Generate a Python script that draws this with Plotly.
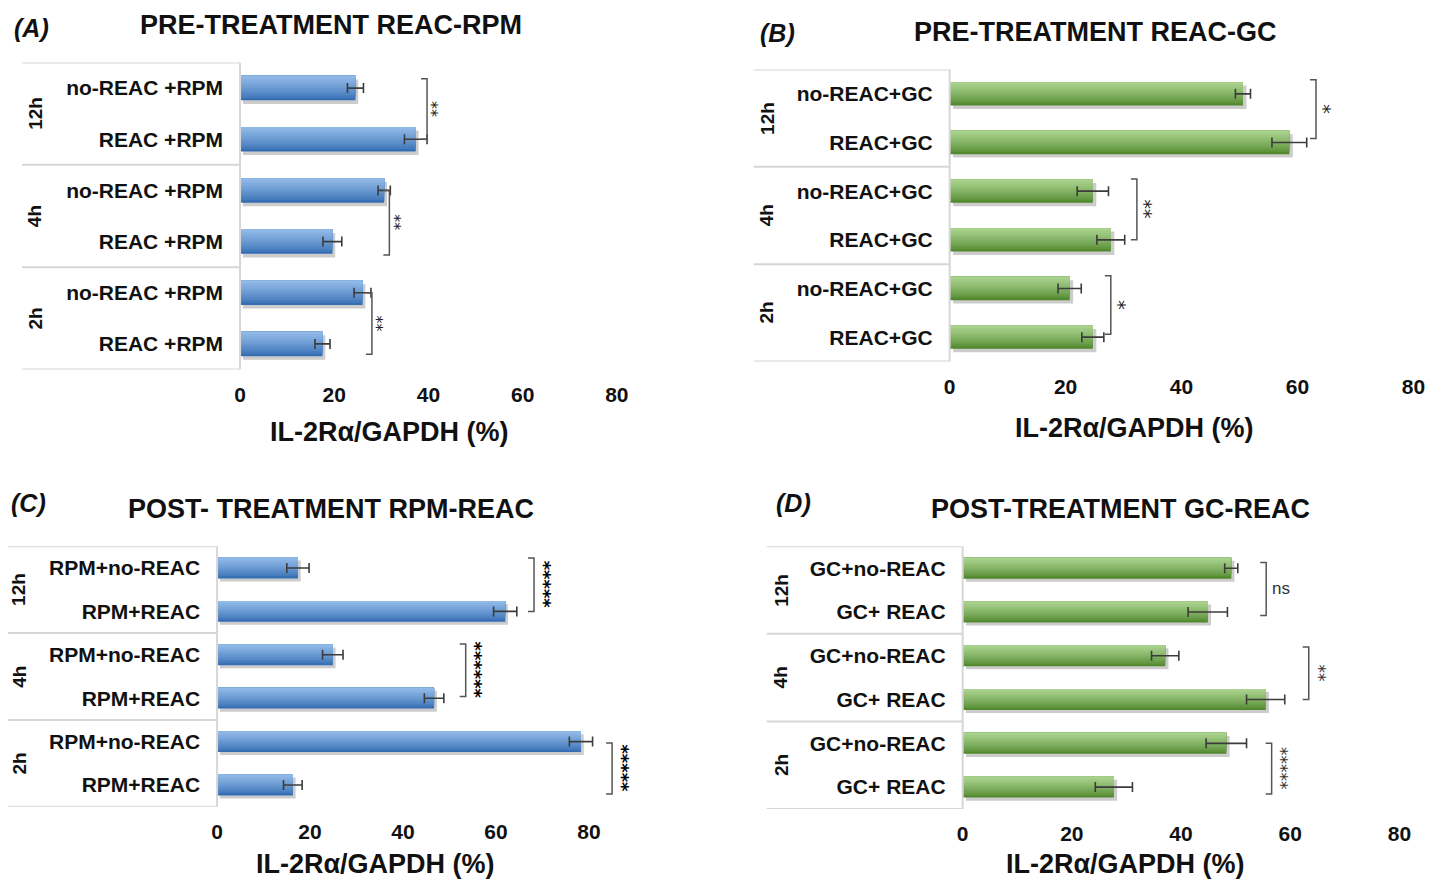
import plotly.graph_objects as go

# page body has an 8px margin; figure sized to fit the 1440x879 window
OFF = 8
W, H = 1440 - OFF, 879 - OFF

# ---------------- data ----------------
groups = ["12h", "4h", "2h"]
x_ticks = [0, 20, 40, 60, 80]
x_title = "IL-2Rα/GAPDH (%)"

a_labels = ["no-REAC +RPM", "REAC +RPM", "no-REAC +RPM", "REAC +RPM", "no-REAC +RPM", "REAC +RPM"]
a_values = [24.5, 37.3, 30.6, 19.6, 26.0, 17.5]
a_errors = [1.7, 2.4, 1.3, 2.0, 1.8, 1.6]
a_sig = ["**", "**", "**"]
a_bracket_x = [39.7, 31.7, 28.0]

b_labels = ["no-REAC+GC", "REAC+GC", "no-REAC+GC", "REAC+GC", "no-REAC+GC", "REAC+GC"]
b_values = [50.6, 58.6, 24.7, 27.8, 20.7, 24.7]
b_errors = [1.3, 3.0, 2.7, 2.4, 2.0, 1.9]
b_sig = ["*", "**", "*"]
b_bracket_x = [63.2, 32.3, 27.8]

c_labels = ["RPM+no-REAC", "RPM+REAC", "RPM+no-REAC", "RPM+REAC", "RPM+no-REAC", "RPM+REAC"]
c_values = [17.4, 62.0, 24.9, 46.7, 78.3, 16.3]
c_errors = [2.4, 2.5, 2.2, 2.1, 2.5, 2.0]
c_sig = ["*****", "******", "*****"]
c_bracket_x = [68.2, 53.5, 85.0]

d_labels = ["GC+no-REAC", "GC+ REAC", "GC+no-REAC", "GC+ REAC", "GC+no-REAC", "GC+ REAC"]
d_values = [49.2, 44.9, 37.1, 55.5, 48.3, 27.7]
d_errors = [1.2, 3.6, 2.5, 3.5, 3.7, 3.4]
d_sig = ["ns", "**", "*****"]
d_bracket_x = [55.6, 63.4, 56.6]

# ---------------- styles ----------------
FONT = "Liberation Sans, Arial, sans-serif"
STARFONT = "DejaVu Sans, sans-serif"
BLUE = ((0x36, 0x6e, 0xb4), (0x90, 0xb9, 0xe7))
GREEN = ((0x52, 0x89, 0x2e), (0xa9, 0xd2, 0x8e))

panels = [
    dict(letter="(A)", title="PRE-TREATMENT REAC-RPM", labels=a_labels, values=a_values,
         errors=a_errors, sig=a_sig, bx=a_bracket_x,
         pads=[(0.18, 0.0), (0.0, 0.26), (0.0, 0.2)],
         plot=(240, 617, 62.5, 369.5), xmax=80, box_left=22, grp_x=35,
         title_xy=(331, 25), letter_xy=(31, 28), xtitle_xy=(390, 432),
         colors=BLUE, star=dict(size=16, color="#222222", weight="normal", shift=5)),
    dict(letter="(B)", title="PRE-TREATMENT REAC-GC", labels=b_labels, values=b_values,
         errors=b_errors, sig=b_sig, bx=b_bracket_x,
         pads=[(0.29, -0.08), (0.25, 0.0), (0.26, -0.06)],
         plot=(950, 1414, 69.5, 361.5), xmax=80, box_left=754, grp_x=767,
         title_xy=(1095, 32), letter_xy=(778, 33), xtitle_xy=(1135, 428),
         colors=GREEN, star=dict(size=19, color="#222222", weight="normal", shift=8)),
    dict(letter="(C)", title="POST- TREATMENT RPM-REAC", labels=c_labels, values=c_values,
         errors=c_errors, sig=c_sig, bx=c_bracket_x,
         pads=[(0.23, 0.0), (0.25, -0.04), (-0.03, 0.21)],
         plot=(217, 635.5, 546.3, 806.7), xmax=90, box_left=5, grp_x=19,
         title_xy=(331, 509), letter_xy=(28, 503), xtitle_xy=(376, 864),
         colors=BLUE, star=dict(size=18, color="#000000", weight="bold", shift=10)),
    dict(letter="(D)", title="POST-TREATMENT GC-REAC", labels=d_labels, values=d_values,
         errors=d_errors, sig=d_sig, bx=d_bracket_x,
         pads=[(0.13, 0.08), (0.2, 0.0), (0.0, 0.16)],
         plot=(963, 1400, 546.3, 809), xmax=80, box_left=767, grp_x=781,
         title_xy=(1121, 509), letter_xy=(794, 503), xtitle_xy=(1126, 864),
         colors=GREEN, star=dict(size=17, color="#333333", weight="normal", shift=10)),
]


def px(x):
    # horizontal calibration measured against the photographed page
    return ((x - 5.9) / 0.988 - OFF) / W


def py(y):
    return 1 - (y - OFF) / H


def mix(c0, c1, t):
    return "rgb(%d,%d,%d)" % tuple(round(a + (b - a) * t) for a, b in zip(c0, c1))


fig = go.Figure()
annotations = []
shapes = []
layout_axes = {}
BW = 0.48
NLAYERS = 10

for i, p in enumerate(panels, start=1):
    xa = "x" if i == 1 else f"x{i}"
    ya = "y" if i == 1 else f"y{i}"
    xkey = "xaxis" if i == 1 else f"xaxis{i}"
    ykey = "yaxis" if i == 1 else f"yaxis{i}"
    n = len(p["values"])
    ypos = [n - 1 - k for k in range(n)]
    x0, x1, y0, y1 = p["plot"]

    # shadow
    fig.add_trace(go.Bar(x=p["values"], y=ypos, base=0.6, orientation="h", width=BW,
                         offset=-BW / 2 - 0.07, marker=dict(color="rgba(0,0,0,0.20)", line=dict(width=0)),
                         xaxis=xa, yaxis=ya, showlegend=False, hoverinfo="skip"))
    # gradient bars (dark bottom -> light top)
    dark, light = p["colors"]
    for k in range(NLAYERS):
        wk = BW * (NLAYERS - k) / NLAYERS
        t = k / (NLAYERS - 1)
        fig.add_trace(go.Bar(x=p["values"], y=ypos, orientation="h", width=wk,
                             offset=BW / 2 - wk, marker=dict(color=mix(dark, light, t ** 0.8), line=dict(width=0)),
                             xaxis=xa, yaxis=ya, showlegend=False, hoverinfo="skip"))
    # error bars
    fig.add_trace(go.Scatter(x=p["values"], y=ypos, mode="markers", marker=dict(size=1, opacity=0),
                             error_x=dict(type="data", array=p["errors"], visible=True, color="#3c3c3c",
                                          thickness=1.6, width=5),
                             xaxis=xa, yaxis=ya, showlegend=False, hoverinfo="skip"))

    layout_axes[xkey] = dict(domain=[px(x0), px(x1)], range=[0, p["xmax"]], anchor=ya,
                             tickvals=x_ticks, showgrid=False, zeroline=False, showline=False,
                             ticks="", ticklabelstandoff=10, fixedrange=True,
                             tickfont=dict(family=FONT, size=21, color="#111111", weight="bold"))
    layout_axes[ykey] = dict(domain=[py(y1), py(y0)], range=[-0.5, n - 0.5], anchor=xa,
                             tickvals=ypos, ticktext=p["labels"], showgrid=False, zeroline=False,
                             showline=False, ticks="", ticklabelstandoff=16, fixedrange=True,
                             tickfont=dict(family=FONT, size=21, color="#111111", weight="bold"))

    # category box
    for yy in [n - 0.5, 3.5, 1.5, -0.5]:
        shapes.append(dict(type="line", xref="paper", yref=ya, x0=px(p["box_left"]), x1=px(x0),
                           y0=yy, y1=yy, line=dict(color="#d6d6d6", width=2)))
    shapes.append(dict(type="line", xref="paper", yref=ya, x0=px(x0), x1=px(x0),
                       y0=-0.5, y1=n - 0.5, line=dict(color="#d6d6d6", width=2)))

    # group labels
    for g, grp in enumerate(groups):
        annotations.append(dict(text=grp, x=px(p["grp_x"]), xref="paper", y=(ypos[2 * g] + ypos[2 * g + 1]) / 2,
                                yref=ya, textangle=-90, showarrow=False, xanchor="center", yanchor="middle",
                                font=dict(family=FONT, size=19, color="#111111", weight="bold")))

    # significance brackets
    for g in range(len(groups)):
        pt, pb = p["pads"][g]
        yt = ypos[2 * g] + pt
        yb = ypos[2 * g + 1] - pb
        bx = p["bx"][g]
        shapes.append(dict(type="path", xref=xa, yref=ya, xsizemode="pixel", xanchor=bx,
                           path=f"M -6,{yt} L 0,{yt} L 0,{yb} L -6,{yb}",
                           line=dict(color="#555555", width=1.5)))
        s = p["sig"][g]
        st = p["star"]
        if s == "ns":
            annotations.append(dict(text=s, x=bx, xref=xa, y=(yt + yb) / 2, yref=ya, showarrow=False,
                                    xanchor="left", yanchor="middle", xshift=4,
                                    font=dict(family=FONT, size=17, color="#333333")))
        else:
            annotations.append(dict(text=s, x=bx, xref=xa, y=(yt + yb) / 2, yref=ya, showarrow=False,
                                    textangle=90, xanchor="center", yanchor="middle", xshift=st["shift"],
                                    font=dict(family=STARFONT, size=st["size"], color=st["color"],
                                              weight=st["weight"])))

    # titles
    tx, ty = p["title_xy"]
    annotations.append(dict(text=p["title"], x=px(tx), y=py(ty), xref="paper", yref="paper",
                            showarrow=False, xanchor="center", yanchor="middle",
                            font=dict(family=FONT, size=27, color="#111111", weight="bold")))
    lx, ly = p["letter_xy"]
    annotations.append(dict(text=p["letter"], x=px(lx), y=py(ly), xref="paper", yref="paper",
                            showarrow=False, xanchor="center", yanchor="middle",
                            font=dict(family=FONT, size=25, color="#111111", weight="bold", style="italic")))
    ax, ay = p["xtitle_xy"]
    annotations.append(dict(text=x_title, x=px(ax), y=py(ay), xref="paper", yref="paper",
                            showarrow=False, xanchor="center", yanchor="middle",
                            font=dict(family=FONT, size=27, color="#111111", weight="bold")))

fig.update_layout(width=W, height=H, margin=dict(l=0, r=0, t=0, b=0), paper_bgcolor="white",
                  plot_bgcolor="white", barmode="overlay", showlegend=False,
                  annotations=annotations, shapes=shapes, **layout_axes)

fig.write_html("out.html", config={"displayModeBar": False})
